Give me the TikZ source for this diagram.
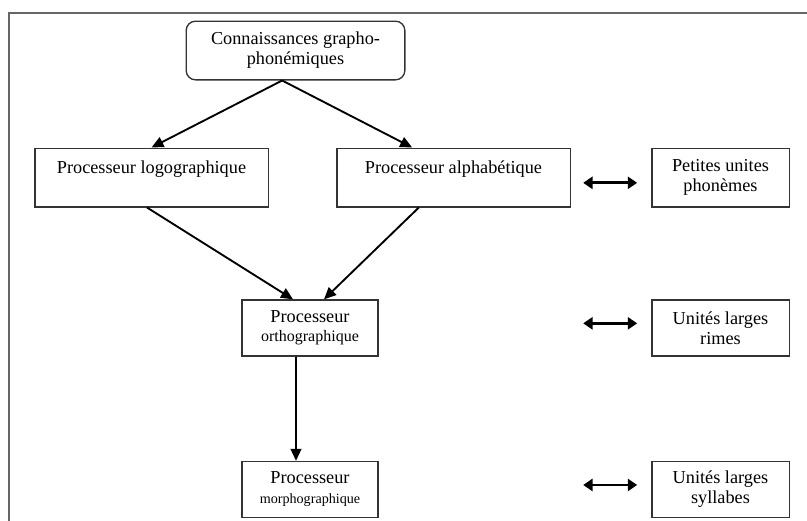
\documentclass[tikz,border=0pt]{standalone}
\usepackage{fontspec}
\setmainfont{Liberation Serif}
\usetikzlibrary{arrows.meta}
\begin{document}
\begin{tikzpicture}[x=0.75pt,y=-0.75pt,
  every node/.style={font=\fontsize{13.7}{15}\selectfont},
  box/.style={draw=black!80,line width=1pt,inner sep=0pt,align=center},
  arr/.style={-{Triangle[length=9pt,width=8pt]},line width=1.4pt},
  darr/.style={{Triangle[length=7pt,width=9pt]}-{Triangle[length=7pt,width=9pt]},line width=2.2pt}]
\useasboundingbox (0,0) rectangle (807,521);
\clip (0,0) rectangle (807,521);
\draw[black!60,line width=0.8pt] (9,13) rectangle (830,540);
% nodes
\node[box,rounded corners=7pt,minimum width=164pt,minimum height=44pt] (top) at (295.5,50.5) {Connaissances grapho-\\phonémiques};
\node[box,minimum width=175pt,minimum height=44pt,text height=18.75pt,text depth=24.75pt] (logo) at (151.5,177.5) {Processeur logographique};
\node[box,minimum width=175pt,minimum height=44pt,text height=18.75pt,text depth=24.75pt] (alpha) at (453.5,177.5) {Processeur alphabétique};
\node[box,minimum width=103pt,minimum height=44pt] (pet) at (720.5,177.5) {Petites unites\\phonèmes};
\node[box,minimum width=102pt,minimum height=42pt,font=\fontsize{13.7}{14}\selectfont] (ortho) at (310,328) {Processeur\\{\fontsize{12}{14}\selectfont orthographique}};
\node[box,minimum width=103pt,minimum height=42pt] (rimes) at (720.5,328) {Unités larges\\rimes};
\node[box,minimum width=102pt,minimum height=42pt] (morpho) at (310,489.5) {Processeur\\{\fontsize{10.6}{12}\selectfont morphographique}};
\node[box,minimum width=103pt,minimum height=42pt] (syl) at (720.5,489.5) {Unités larges\\syllabes};
% arrows
\draw[arr] ([xshift=-10pt]top.south) -- (logo.north);
\draw[arr] ([xshift=-10pt]top.south) -- ([xshift=-31pt]alpha.north);
\draw[arr] ([xshift=-3.4pt]logo.south) -- ([xshift=-12.75pt]ortho.north);
\draw[arr] ([xshift=-26pt]alpha.south) -- ([xshift=10.5pt]ortho.north);
\draw[arr] ([xshift=-10.5pt]ortho.south) -- ([xshift=-10.5pt]morpho.north);
\draw[darr] ([xshift=-51pt,yshift=-4pt]pet.west) -- ([xshift=-10.5pt,yshift=-4pt]pet.west);
\draw[darr] ([xshift=-51pt,yshift=3.5pt]rimes.west) -- ([xshift=-10.5pt,yshift=3.5pt]rimes.west);
\draw[darr] ([xshift=-51pt,yshift=3.4pt]syl.west) -- ([xshift=-10.5pt,yshift=3.4pt]syl.west);
\end{tikzpicture}
\end{document}
